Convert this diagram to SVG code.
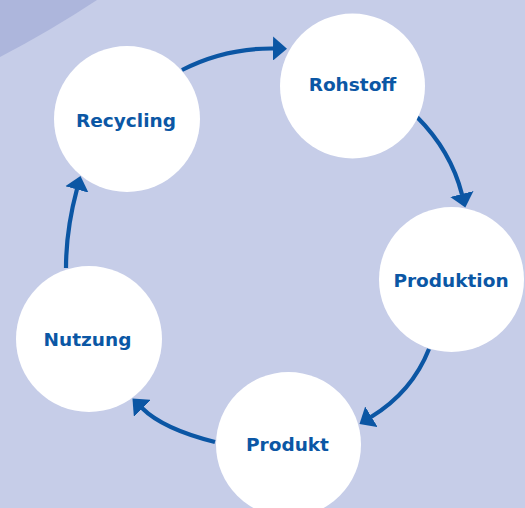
<svg xmlns="http://www.w3.org/2000/svg" width="525" height="508" viewBox="0 0 525 508">
  <defs>
    <marker id="ah" viewBox="0 0 14 24" markerWidth="14" markerHeight="24" markerUnits="userSpaceOnUse" refX="0.5" refY="12" orient="auto">
      <path d="M0,0 L14,12 L0,24 Z" fill="#0b56a4"/>
    </marker>
    <style>
      .node circle { fill: #ffffff; }
      .node text { font-family: "DejaVu Sans", Verdana, sans-serif; font-weight: bold; font-size: 18.5px; fill: #0b57a5; text-anchor: middle; }
      .conn path { fill: none; stroke: #0b56a4; stroke-width: 4.2; marker-end: url(#ah); }
    </style>
  </defs>
  <rect x="0" y="0" width="525" height="508" fill="#c6cde8"/>
  <path d="M0,0 L0,57 Q50,31 97,0 Z" fill="#adb6dc"/>
  <g id="connectors" class="conn">
    <path d="M182,70 Q225,48 273.5,48.5"/>
    <path d="M417,117 Q451,151 462,194.5"/>
    <path d="M429,349 Q412,392 371,417"/>
    <path d="M215,442 Q163,429 142,408"/>
    <path d="M66,268 Q66,230 77,189"/>
  </g>
  <g id="node-recycling" class="node">
    <circle cx="127" cy="119" r="73"/>
    <text x="126" y="127">Recycling</text>
  </g>
  <g id="node-rohstoff" class="node">
    <circle cx="352.5" cy="86" r="72.5"/>
    <text x="352.5" y="91">Rohstoff</text>
  </g>
  <g id="node-produktion" class="node">
    <circle cx="451.5" cy="279.5" r="72.5"/>
    <text x="451" y="287">Produktion</text>
  </g>
  <g id="node-produkt" class="node">
    <circle cx="288.5" cy="444.5" r="72.5"/>
    <text x="287.5" y="451">Produkt</text>
  </g>
  <g id="node-nutzung" class="node">
    <circle cx="89" cy="339" r="73"/>
    <text x="87.5" y="346">Nutzung</text>
  </g>
</svg>
